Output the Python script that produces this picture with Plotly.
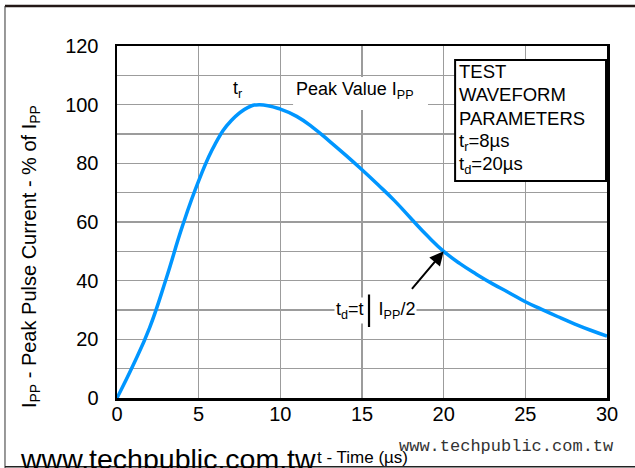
import plotly.graph_objects as go

# ---- data ----
time_us = [0, 1, 2, 3, 4, 5, 6, 7, 8, 8.7, 10, 11, 12, 13, 14, 15, 16, 17, 18, 19,
           20, 21, 22, 23, 24, 25, 26, 27, 28, 29, 30]
pct_ipp = [0, 11.3, 24, 40.5, 58.5, 74, 86.5, 94.6, 99, 100, 98.5, 96, 92.2, 87.6, 82.8,
           77.8, 72.6, 67.2, 61.2, 55.3, 50, 45.8, 42.2, 38.9, 35.9, 32.8, 30.2, 27.7,
           25.3, 23.1, 21.1]

x_ticks = [0, 5, 10, 15, 20, 25, 30]
y_ticks = [0, 20, 40, 60, 80, 100, 120]

box_lines = ["TEST", "WAVEFORM", "PARAMETERS", "t<sub>r</sub>=8µs", "t<sub>d</sub>=20µs"]
box_line_y = [111.2, 103.3, 95.35, 87.2, 79.5]

FONT = "Liberation Sans, Arial, sans-serif"
GRID = "#9c9c9c"

fig = go.Figure()
fig.add_trace(go.Scatter(
    x=time_us, y=pct_ipp, mode="lines",
    line=dict(color="#0096ff", width=3.5, shape="spline", smoothing=1.3),
    hoverinfo="skip", showlegend=False,
))

fig.update_layout(
    width=635, height=468,
    margin=dict(l=117, r=28, t=46, b=70, pad=0),
    paper_bgcolor="white", plot_bgcolor="white",
    font=dict(family=FONT, color="black"),
    xaxis=dict(range=[0, 30], tickvals=x_ticks, showgrid=True, gridcolor=GRID, gridwidth=1.5,
               showline=True, mirror=True, linecolor="black", linewidth=2.5,
               ticks="", tickfont=dict(size=20, family=FONT, color="black"),
               zeroline=False, fixedrange=True, ticklabelstandoff=-4),
    yaxis=dict(range=[0, 120], tickvals=y_ticks, showgrid=True, gridcolor=GRID, gridwidth=1.5,
               minor=dict(dtick=10, tick0=0, showgrid=True, gridcolor=GRID, gridwidth=1.5),
               showline=True, mirror=True, linecolor="black", linewidth=2.5,
               ticks="", tickfont=dict(size=20, family=FONT, color="black"),
               zeroline=False, fixedrange=True, ticklabelstandoff=12),
)

# test waveform parameter box
fig.add_shape(type="rect", xref="x", yref="y", x0=20.7, x1=29.94, y0=74.0, y1=115.2,
              fillcolor="white", line=dict(color="black", width=2), layer="above")
for txt, yy in zip(box_lines, box_line_y):
    fig.add_annotation(x=20.82, y=yy, xref="x", yref="y", xanchor="left", yanchor="middle",
                       text=txt, align="left", showarrow=False,
                       font=dict(size=18.5, family=FONT, color="black"))

# t_r label and peak value label (white backing box behind the latter)
fig.add_shape(type="rect", xref="x", yref="y", x0=10.78, x1=19.04, y0=98.2, y1=109.4,
              fillcolor="white", line=dict(width=0), layer="above")
fig.add_annotation(x=7.4, y=105.3, xref="x", yref="y", xanchor="center", yanchor="middle",
                   text="t<sub>r</sub>", showarrow=False,
                   font=dict(size=18, family=FONT, color="black"))
fig.add_annotation(x=14.55, y=105.0, xref="x", yref="y", xanchor="center", yanchor="middle",
                   text="Peak Value I<sub>PP</sub>", showarrow=False,
                   font=dict(size=18, family=FONT, color="black"))

# t_d annotation with arrow
fig.add_annotation(x=20, y=50, xref="x", yref="y", ax=-33, ay=39, text="",
                   showarrow=True, arrowhead=2, arrowsize=1.4, arrowwidth=2, arrowcolor="black")
fig.add_annotation(x=15.8, y=30, xref="x", yref="y", xanchor="center", yanchor="middle",
                   text="t<sub>d</sub>=t   I<sub>PP</sub>/2", showarrow=False,
                   bgcolor="white", borderpad=1,
                   font=dict(size=18, family=FONT, color="black"))
fig.add_annotation(x=15.43, y=24.2, xref="x", yref="y", ax=0, ay=-34, text="",
                   showarrow=True, arrowhead=0, arrowwidth=2.2, arrowcolor="black")

# axis titles
fig.add_annotation(x=-0.1776, y=0.403, xref="paper", yref="paper", textangle=-90,
                   xanchor="center", yanchor="middle",
                   text="I<sub>PP</sub> - Peak Pulse Current - % of I<sub>PP</sub>",
                   showarrow=False, font=dict(size=20, family=FONT, color="black"))
fig.add_annotation(x=0.502, y=-0.168, xref="paper", yref="paper",
                   xanchor="center", yanchor="middle",
                   text="t - Time (µs)", showarrow=False,
                   font=dict(size=17, family=FONT, color="black"))

# watermarks
fig.add_annotation(x=0.104, y=-0.172, xref="paper", yref="paper",
                   xanchor="center", yanchor="middle",
                   text="www.techpublic.com.tw", showarrow=False,
                   font=dict(size=28.5, family=FONT, color="black"))
fig.add_annotation(x=0.794, y=-0.139, xref="paper", yref="paper",
                   xanchor="center", yanchor="middle",
                   text="www.techpublic.com.tw", showarrow=False,
                   font=dict(size=17, family="Liberation Mono, monospace", color="#333333"))

# page frame lines
fig.add_shape(type="line", xref="paper", yref="paper", x0=-0.2286, x1=1.06, y0=1.1136, y1=1.1136,
              line=dict(color="#231816", width=2.5), layer="above")
fig.add_shape(type="line", xref="paper", yref="paper", x0=-0.2286, x1=-0.2286, y0=1.1136, y1=-0.2,
              line=dict(color="#333333", width=1), layer="above")
fig.add_shape(type="line", xref="paper", yref="paper", x0=-0.2286, x1=1.06, y0=-0.1955, y1=-0.1955,
              line=dict(color="#222222", width=1.5), layer="above")

fig.write_html("out.html", config={"displayModeBar": False, "staticPlot": True},
               post_script="document.body.style.margin='0px';")
